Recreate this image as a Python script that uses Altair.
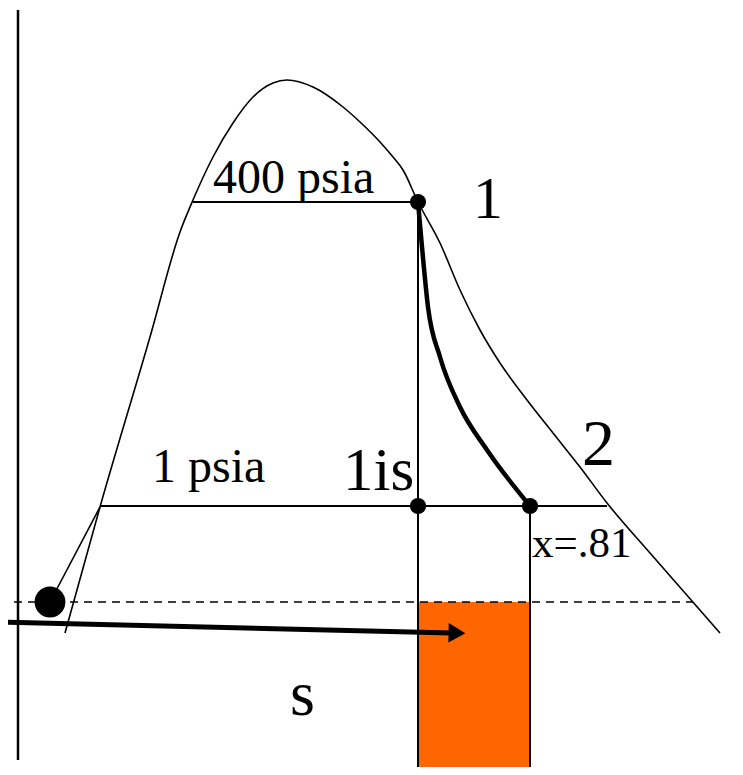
import altair as alt
import pandas as pd

# Saturation dome (s, T in diagram units)
dome_s = [65, 100, 150, 180, 193, 213, 233, 253, 273, 287, 313, 343, 360, 380, 393, 403, 418,
          440, 460, 480, 500, 527, 553, 580, 607, 650, 720]
dome_T = [633, 507, 337, 232, 200, 157, 123, 97, 83, 80, 87, 107, 122, 142, 157, 170, 202,
          243, 290, 330, 363, 400, 433, 467, 503, 553, 633]

# Actual expansion 1 -> 2
exp_s = [418, 422, 428, 440, 460, 487, 530]
exp_T = [202, 247, 307, 357, 407, 450, 506]

# Pump / compressed liquid line
pump_s = [50, 100]
pump_T = [602, 507]

# State points
pt_s = [418, 418, 530]
pt_T = [202, 506, 506]

# Texts
lab_text = ["400 psia", "1", "1 psia", "1is", "2", "x=.81", "s"]
lab_s = [213, 473, 152, 343, 582, 532, 290]
lab_T = [193, 218, 482, 490, 465, 557, 715]
lab_size = [48, 60, 48, 61, 66, 43, 64]

XS = alt.Scale(domain=[8, 735], nice=False, zero=False)
YS = alt.Scale(domain=[8, 767], nice=False, zero=False, reverse=True)


def X(f="s"):
    return alt.X(f, type="quantitative", scale=XS, axis=None)


def Y(f="T"):
    return alt.Y(f, type="quantitative", scale=YS, axis=None)


dome = alt.Chart(pd.DataFrame({"s": dome_s, "T": dome_T, "i": range(len(dome_s))})).mark_line(
    color="black", strokeWidth=1.6, interpolate="monotone"
).encode(x=X(), y=Y(), order="i:Q")

expn = alt.Chart(pd.DataFrame({"s": exp_s, "T": exp_T, "i": range(len(exp_s))})).mark_line(
    color="black", strokeWidth=4.5, interpolate="monotone"
).encode(x=X(), y=Y(), order="i:Q")

pump = alt.Chart(pd.DataFrame({"s": pump_s, "T": pump_T})).mark_line(
    color="black", strokeWidth=1.6
).encode(x=X(), y=Y())

# horizontal segments: isobars and dashed line
hseg = pd.DataFrame({
    "s": [193, 100, 0], "s2": [418, 607, 693], "T": [202, 506, 602],
    "kind": ["a", "a", "d"],
})
hlines = alt.Chart(hseg[hseg.kind == "a"]).mark_rule(color="black", strokeWidth=2).encode(
    x=X(), x2="s2", y=Y()
)
dashed = alt.Chart(hseg[hseg.kind == "d"]).mark_rule(
    color="black", strokeWidth=1.3, strokeDash=[8, 6]
).encode(x=X(), x2="s2", y=Y())

# orange area under T0 between s1 and s2
rect = alt.Chart(pd.DataFrame({"s": [418], "s2": [530], "T": [602], "T2": [775]})).mark_rect(
    color="#FF6600"
).encode(x=X(), x2="s2", y=Y(), y2="T2")

# vertical segments
vseg = pd.DataFrame({"s": [418, 530, 18], "T": [202, 506, 10], "T2": [775, 775, 760], "w": [2, 2, 2.5]})
vlines = alt.Chart(vseg).mark_rule(color="black").encode(
    x=X(), y=Y(), y2="T2", strokeWidth=alt.StrokeWidth("w:Q", legend=None, scale=None)
)

# arrow
arrow = alt.Chart(pd.DataFrame({"s": [0], "s2": [452], "T": [622], "T2": [633]})).mark_rule(
    color="black", strokeWidth=5
).encode(x=X(), x2="s2", y=Y(), y2="T2")
head = alt.Chart(pd.DataFrame({"s": [457], "T": [633]})).mark_point(
    shape="triangle-right", filled=True, color="black", opacity=1, size=380, angle=1
).encode(x=X(), y=Y())

pts = alt.Chart(pd.DataFrame({"s": pt_s, "T": pt_T})).mark_circle(
    color="black", size=260, opacity=1
).encode(x=X(), y=Y())
ball = alt.Chart(pd.DataFrame({"s": [50], "T": [602]})).mark_circle(
    color="black", size=950, opacity=1
).encode(x=X(), y=Y())

texts = []
for t, s, T, fs in zip(lab_text, lab_s, lab_T, lab_size):
    texts.append(
        alt.Chart(pd.DataFrame({"s": [s], "T": [T], "t": [t]})).mark_text(
            font="Liberation Serif", fontSize=fs, align="left", baseline="alphabetic", color="black"
        ).encode(x=X(), y=Y(), text="t:N")
    )

chart = alt.layer(
    rect, dashed, hlines, vlines, dome, pump, expn, arrow, head, pts, ball, *texts
).properties(
    width=727, height=759, padding=0, autosize=alt.AutoSizeParams(type="none")
).configure_view(stroke=None)

chart.save("out.html", embed_options={"renderer": "svg", "actions": False})
